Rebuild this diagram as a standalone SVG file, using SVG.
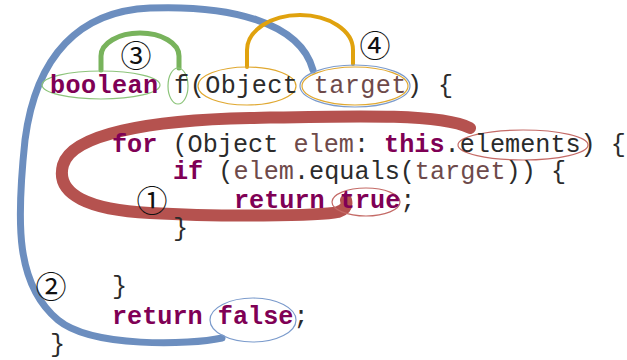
<svg xmlns="http://www.w3.org/2000/svg" width="627" height="360" viewBox="0 0 627 360">
  <style>
    .code { font-family: "Liberation Mono", "Courier New", monospace; font-size: 25.2px; fill: #2b2b2b; white-space: pre; }
    .kw { fill: #7f0055; font-weight: bold; }
    .var { fill: #6e4a4a; }
    .num { font-family: "Noto Sans CJK JP", "DejaVu Sans", sans-serif; font-size: 31px; fill: #111; text-anchor: middle; }
    .ring { fill: none; stroke-width: 1.2; }
    .link { fill: none; stroke-linecap: round; stroke-linejoin: round; }
  </style>

  <!-- connectors: annotation arcs between highlighted tokens -->
  <g id="connectors">
    <!-- 1: loop over elements back to return true -->
    <path class="link" stroke="#b5524f" stroke-width="12" d="M470,128 C440,113 350,116 250,118 C150,120 72,134 63,165 C55,195 90,210 150,213 C220,217 320,216 338,212 C347,209 347,204 346,200"/>
    <!-- 2: parameter target down to return false -->
    <path class="link" stroke="#6c8ebf" stroke-width="7" d="M313,70 C300,22 230,5 150,8 C80,11 36,55 25,140 C16,225 16,285 58,320 C92,348 190,345 222,338"/>
    <!-- 3: return type to method name -->
    <path class="link" stroke="#78b35c" stroke-width="5" d="M101,70 L101,56 A39,23 0 0 1 179,56 L179,68"/>
    <!-- 4: parameter type to parameter name -->
    <path class="link" stroke="#e0a20e" stroke-width="4" d="M247,67 L247,50 A53,35 0 0 1 353,50 L353,64"/>
  </g>

  <!-- token highlights -->
  <g id="n-boolean"><ellipse class="ring" stroke="#8cc47a" cx="101" cy="85" rx="59" ry="14"/></g>
  <g id="n-f"><ellipse class="ring" stroke="#8cc47a" cx="178" cy="86" rx="10" ry="18"/></g>
  <g id="n-object"><ellipse class="ring" stroke="#e0a830" cx="247" cy="86" rx="49" ry="19"/></g>
  <g id="n-target">
    <ellipse class="ring" stroke="#7b9bcc" cx="355" cy="86" rx="55" ry="21"/>
    <ellipse class="ring" stroke="#e0a830" cx="355" cy="86" rx="53" ry="19"/>
  </g>
  <g id="n-elements"><ellipse class="ring" stroke="#c46a66" cx="523" cy="145" rx="65" ry="15"/></g>
  <g id="n-true"><ellipse class="ring" stroke="#c46a66" cx="366" cy="202" rx="34" ry="14"/></g>
  <g id="n-false"><ellipse class="ring" stroke="#7b9bcc" cx="253" cy="320" rx="43" ry="22"/></g>

  <!-- source code -->
  <g id="code" class="code">
    <text x="50" y="93" letter-spacing="0.4"><tspan class="kw">boolean</tspan> f(Object <tspan class="var">target</tspan>) {</text>
    <text x="112" y="152"><tspan class="kw">for</tspan> (Object <tspan class="var">elem</tspan>: <tspan class="kw">this</tspan>.elements) {</text>
    <text x="173" y="179"><tspan class="kw">if</tspan> (<tspan class="var">elem</tspan>.equals(<tspan class="var">target</tspan>)) {</text>
    <text x="234" y="208"><tspan class="kw">return</tspan> <tspan class="kw">true</tspan>;</text>
    <text x="173" y="236">}</text>
    <text x="112" y="294">}</text>
    <text x="112" y="324"><tspan class="kw">return</tspan> <tspan class="kw">false</tspan>;</text>
    <text x="50" y="352">}</text>
  </g>

  <!-- step numbers -->
  <g id="labels">
    <text class="num" x="152" y="212">①</text>
    <text class="num" x="51" y="298">②</text>
    <text class="num" x="136" y="67">③</text>
    <text class="num" x="375" y="57">④</text>
  </g>
</svg>
